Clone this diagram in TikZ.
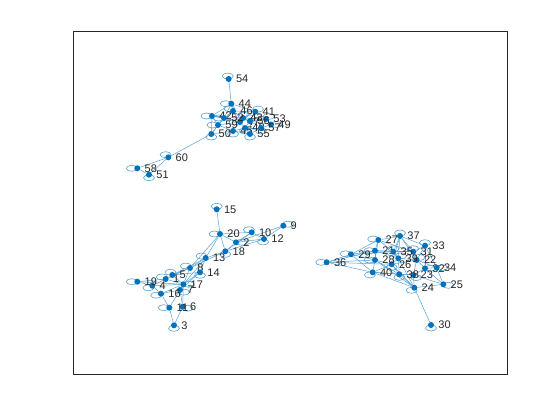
\documentclass[tikz,border=0pt]{standalone}
\usepackage{fontspec}
\setmainfont{Liberation Sans}
\usetikzlibrary{positioning,backgrounds}
\definecolor{nodeblue}{RGB}{0,114,189}
\definecolor{axisgray}{RGB}{38,38,38}
\tikzset{
  vtx/.style={circle, fill=nodeblue, inner sep=0pt, minimum size=6pt},
  edgeline/.style={draw=nodeblue!65, line width=0.5pt},
  loopline/.style={draw=nodeblue!65, line width=0.6pt},
  vlabel/.style={font=\fontsize{11}{13}\selectfont, text=axisgray, inner sep=0pt},
}

\begin{document}
\begin{tikzpicture}[x=1pt, y=-1pt]
  \useasboundingbox (0,0) rectangle (560,420);
  % axes box
  \draw[axisgray, line width=0.5pt] (73,31) rectangle (507,374);

  % vertices: name / x / y / loop direction
  \foreach \n/\x/\y/\d in {
    1/165.7/279/225, 2/236/242.3/0, 3/174/325.3/90, 4/152.3/285.7/135,
    5/172.3/275/250, 6/182.7/306.7/30, 7/180/290/45, 8/190/268/220,
    9/283.3/225.7/330, 10/251.7/232.3/240, 11/169.3/307.7/180,
    12/264/239/100, 13/205.7/258/220, 14/200/272.3/90, 15/216.7/209.3/270,
    16/161/293.7/150, 17/183.3/284.3/0, 18/225.3/251.3/90, 19/137.3/281.7/180,
    20/220/234/180,
    21/375/250.7/180, 22/416.7/260/300, 23/413.3/275/60, 24/414.3/287.7/120,
    25/443.3/284.3/20, 26/391.7/264.3/90, 27/378.3/240/200, 28/375/260/180,
    29/351/254.3/190, 30/431/325/90, 31/413.3/251.7/270, 32/425/268.3/0,
    33/425/245.7/270, 34/436.7/267.7/0, 35/393.3/251.7/270, 36/326.7/262.3/180,
    37/400/236/270, 38/399.3/274.3/90, 39/398.3/258.3/300, 40/372.7/272.3/120,
    41/255.3/111.7/300, 42/212/116/180, 43/243/118/270, 44/231.3/103.7/180,
    45/233/131/90, 46/233/111/230, 47/240/122/180, 48/245/128/90,
    49/271/124.5/0, 50/211.3/134/90, 51/149/174.7/90, 52/224/118/180,
    53/266/119/300, 54/228.7/79/260, 55/250/134/90, 56/250/121/270,
    57/261/128/90, 58/137.3/168.3/180, 59/218/125/180, 60/168.3/157.3/240}
  {
    \node[vtx] (n\n) at (\x,\y) {};
    \node[vlabel, right=4pt of n\n] (l\n) {\n};
    \begin{scope}[on background layer]
      \draw[loopline] (n\n) ++({5.5*cos(\d)},{3*sin(\d)})
        ellipse [x radius=5.5, y radius=3];
    \end{scope}
  }

  % edges
  \begin{scope}[on background layer]
    \foreach \a/\b in {
      15/20, 20/10, 20/2, 20/18, 20/13, 20/8, 10/2, 10/12, 9/12, 9/2,
      12/2, 12/18, 18/13, 18/8, 2/18, 13/8, 13/5, 13/14, 8/5, 8/1,
      14/17, 14/7, 5/1, 1/19, 1/4, 19/4, 4/16, 4/17, 17/7, 17/16,
      7/16, 16/11, 11/3, 6/3, 7/6, 17/6, 11/17, 1/17, 5/17, 19/17,
      13/17, 14/5, 8/17, 10/18,
      36/29, 36/28, 36/40, 36/21, 36/26, 29/21, 29/27, 29/28, 29/40, 29/35,
      27/37, 27/21, 27/35, 27/31, 37/35, 37/31, 37/33, 37/39, 37/26, 33/31,
      33/22, 33/32, 33/34, 31/22, 31/35, 22/32, 22/39, 32/34, 34/22, 34/25,
      25/32, 25/23, 25/24, 24/23, 24/38, 24/40, 24/26, 24/30, 24/28, 24/39,
      40/28, 40/38, 40/26, 38/26, 38/23, 26/39, 39/35, 35/21, 21/28, 28/26,
      21/39, 23/32, 22/23, 26/22, 38/39, 21/31, 28/38, 40/23, 27/28, 37/22,
      54/44, 44/46, 44/42, 44/41, 44/52, 46/43, 46/41, 46/52, 42/52, 42/59,
      42/47, 42/43, 59/50, 59/45, 59/52, 59/47, 50/45, 50/60, 50/52, 60/58,
      60/51, 58/51, 45/48, 45/47, 45/55, 48/55, 48/56, 48/57, 55/57, 57/49,
      49/53, 53/41, 53/56, 41/56, 56/43, 43/47, 47/48, 43/53, 52/47, 56/57,
      49/56, 41/43, 46/47, 55/56, 50/42}
      \draw[edgeline] (n\a) -- (n\b);
  \end{scope}
\end{tikzpicture}
\end{document}
